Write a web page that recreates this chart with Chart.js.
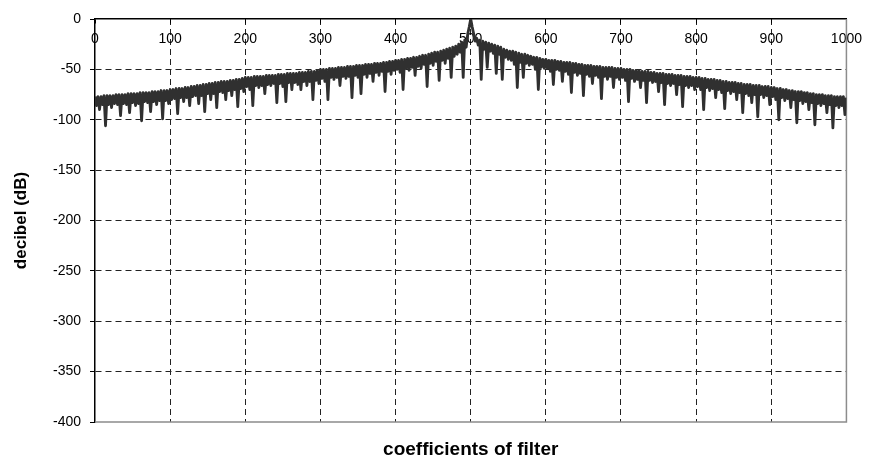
<!DOCTYPE html>
<html>
<head>
<meta charset="utf-8">
<script src="https://cdn.jsdelivr.net/npm/chart.js@4/dist/chart.umd.min.js"></script>
<style>
  html, body { margin: 0; padding: 0; background: #fff; }
  #wrap { width: 870px; height: 459px; }
</style>
</head>
<body>
<div id="wrap"><canvas id="filterChart" width="870" height="459"></canvas></div>
<script>
// filter response in dB, one value every 2 coefficients (0 .. 1000)
const decibels = [
  -77, -86, -77, -90, -77, -85, -76, -106, -76, -85, -76, -88, -76, -84, -75, -85, -75, -96, -75, -84, -75, -85, -74, -93, -74, -83, -74, -86, -74, -84, -73, -101, -73, -82, -73, -83, -73, -92, -72, -82, -72, -85, -72, -81, -71, -99, -71, -81, -71, -84,
  -70, -80, -70, -79, -69, -94, -69, -78, -69, -82, -68, -78, -68, -86, -67, -77, -67, -76, -66, -84, -66, -76, -65, -92, -65, -74, -64, -80, -64, -74, -63, -88, -63, -72, -62, -73, -62, -80, -62, -71, -61, -76, -61, -70, -60, -87, -60, -69, -59, -72,
  -58, -67, -58, -70, -58, -86, -57, -66, -57, -68, -57, -66, -57, -74, -56, -65, -56, -66, -56, -64, -56, -83, -55, -64, -55, -67, -55, -82, -54, -63, -54, -70, -54, -63, -54, -65, -53, -70, -53, -62, -53, -66, -52, -62, -52, -80, -52, -61, -51, -64,
  -50, -59, -50, -62, -50, -80, -49, -58, -49, -60, -49, -58, -48, -66, -48, -57, -48, -59, -47, -57, -47, -78, -47, -56, -46, -58, -46, -74, -46, -55, -45, -58, -45, -54, -45, -62, -44, -53, -44, -56, -44, -52, -43, -72, -43, -52, -42, -55, -42, -51,
  -41, -50, -41, -53, -40, -70, -40, -49, -39, -51, -39, -48, -38, -56, -38, -47, -37, -49, -36, -45, -36, -67, -35, -44, -34, -46, -33, -42, -33, -61, -32, -41, -31, -44, -30, -39, -29, -58, -28, -37, -27, -35, -25, -33, -23, -58, -21, -28, -15, -8,
  0, -8, -15, -22, -19, -26, -21, -60, -22, -30, -23, -48, -24, -32, -25, -34, -26, -54, -27, -35, -28, -60, -30, -38, -31, -40, -32, -41, -32, -45, -33, -68, -34, -43, -35, -58, -35, -44, -36, -46, -37, -45, -38, -50, -38, -70, -39, -48, -40, -49,
  -40, -49, -41, -52, -41, -65, -41, -50, -42, -51, -42, -62, -43, -52, -43, -55, -43, -73, -44, -53, -44, -56, -45, -54, -45, -76, -46, -55, -46, -57, -46, -64, -47, -56, -47, -58, -47, -79, -48, -57, -48, -60, -48, -57, -48, -68, -49, -58, -49, -60,
  -49, -58, -50, -61, -50, -82, -50, -59, -51, -62, -51, -60, -51, -68, -52, -61, -52, -83, -52, -61, -53, -63, -53, -62, -54, -72, -54, -63, -54, -85, -55, -64, -55, -66, -55, -64, -56, -75, -56, -65, -56, -87, -57, -66, -57, -68, -57, -66, -58, -70,
  -58, -67, -58, -70, -59, -90, -59, -68, -60, -71, -60, -69, -60, -78, -61, -70, -61, -73, -62, -89, -62, -71, -63, -74, -63, -72, -63, -80, -64, -73, -64, -93, -65, -74, -65, -76, -65, -83, -66, -75, -66, -97, -66, -75, -67, -78, -67, -76, -67, -85,
  -68, -77, -68, -80, -69, -100, -69, -78, -70, -81, -70, -79, -71, -88, -71, -80, -72, -103, -72, -81, -72, -84, -73, -82, -73, -90, -74, -83, -74, -105, -75, -84, -75, -86, -75, -84, -76, -93, -76, -85, -76, -108, -77, -86, -77, -88, -77, -86, -77, -95,
  -78
];
const coefficients = decibels.map((_, i) => i * 2);

const xTicks = [0, 100, 200, 300, 400, 500, 600, 700, 800, 900, 1000];
const yTicks = [0, -50, -100, -150, -200, -250, -300, -350, -400];

const xTitle = 'coefficients of filter';
const yTitle = 'decibel (dB)';

const FONT = '"Liberation Sans", Arial, sans-serif';

// gray right and bottom edge of the plot area
const plotFrame = {
  id: 'plotFrame',
  beforeDatasetsDraw(chart) {
    const { ctx, chartArea: a } = chart;
    ctx.save();
    ctx.strokeStyle = '#8c8c8c';
    ctx.lineWidth = 1.5;
    ctx.beginPath();
    ctx.moveTo(a.left, a.bottom);
    ctx.lineTo(a.right, a.bottom);
    ctx.lineTo(a.right, a.top);
    ctx.stroke();
    ctx.restore();
  }
};

// hide grid lines that sit on the frame
const xGridColor = c => (c.tick && (c.tick.value === 0 || c.tick.value === 1000)) ? 'rgba(0,0,0,0)' : '#222';
const yGridColor = c => (c.tick && (c.tick.value === 0 || c.tick.value === -400)) ? 'rgba(0,0,0,0)' : '#222';

const ctx = document.getElementById('filterChart').getContext('2d');
new Chart(ctx, {
  type: 'line',
  data: {
    datasets: [{
      data: coefficients.map((c, i) => ({ x: c, y: decibels[i] })),
      borderColor: '#303030',
      borderWidth: 2.8,
      borderJoinStyle: 'round',
      pointRadius: 0,
      tension: 0,
      fill: false
    }]
  },
  plugins: [plotFrame],
  options: {
    responsive: false,
    animation: false,
    layout: { padding: { top: 19, right: 20, left: 0, bottom: 0 } },
    plugins: {
      legend: { display: false },
      tooltip: { enabled: false },
      title: {
        display: true,
        text: xTitle,
        position: 'bottom',
        fullSize: false,
        color: '#000',
        font: { family: FONT, size: 19, weight: 'bold', lineHeight: 1 },
        padding: { top: 18, bottom: 0 }
      }
    },
    scales: {
      x: {
        type: 'linear',
        position: { y: 0 },
        min: 0,
        max: 1000,
        afterBuildTicks: s => { s.ticks = xTicks.map(v => ({ value: v })); },
        ticks: {
          color: '#000',
          font: { family: FONT, size: 14 },
          padding: 8,
          maxRotation: 0,
          autoSkip: false,
          callback: v => String(v)
        },
        grid: {
          color: xGridColor,
          lineWidth: 1,
          tickLength: 4,
          tickColor: '#000'
        },
        border: { display: true, color: '#000', width: 1.5, dash: [6, 4] }
      },
      y: {
        type: 'linear',
        min: -400,
        max: 0,
        afterBuildTicks: s => { s.ticks = yTicks.map(v => ({ value: v })); },
        afterFit: s => { s.width = 95; },
        ticks: {
          color: '#000',
          font: { family: FONT, size: 14 },
          padding: 9,
          callback: v => String(v)
        },
        grid: {
          color: yGridColor,
          lineWidth: 1,
          tickLength: 5,
          tickColor: '#000'
        },
        border: { display: true, color: '#000', width: 1.5, dash: [6, 4] },
        title: {
          display: true,
          text: yTitle,
          color: '#000',
          font: { family: FONT, size: 17, weight: 'bold' },
          padding: { top: 11, bottom: 0 }
        }
      }
    }
  }
});
</script>
</body>
</html>
